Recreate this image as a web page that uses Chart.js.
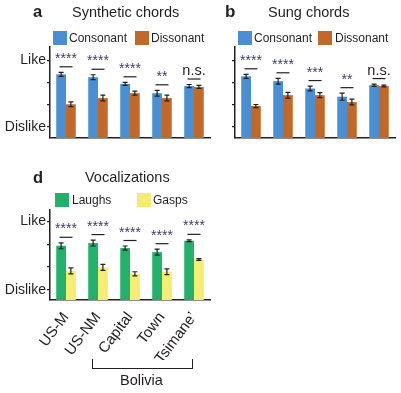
<!DOCTYPE html>
<html>
<head>
<meta charset="utf-8">
<script src="https://cdn.jsdelivr.net/npm/chart.js@4.4.1/dist/chart.umd.min.js"></script>
<style>
  body { margin: 0; background: #fff; }
  #wrap { position: relative; width: 401px; height: 393px; font-family: "Liberation Sans", Arial, sans-serif; color: #231f20; }
  #wrap canvas { position: absolute; left: 0; top: 0; }
  .t { position: absolute; white-space: nowrap; line-height: 1; }
  .letter { font-weight: bold; }
  .sw { position: absolute; width: 14px; height: 14px; }
  #bracket { position: absolute; left: 92px; top: 359px; width: 99px; height: 9px; border: 1.5px solid #231f20; border-top: none; }
</style>
</head>
<body>
<div id="wrap">
  <canvas id="chartA" width="401" height="393"></canvas>
  <canvas id="chartB" width="401" height="393"></canvas>
  <canvas id="chartD" width="401" height="393"></canvas>

  <!-- panel a -->
  <div class="t letter" style="left:33px;top:3px;font-size:16.5px">a</div>
  <div class="t" style="left:72px;top:5px;font-size:14.5px">Synthetic chords</div>
  <div class="sw" style="left:53px;top:31px;background:#4a8fd4"></div>
  <div class="t" style="left:69px;top:31.5px;font-size:12px">Consonant</div>
  <div class="sw" style="left:135px;top:31px;background:#c0692a"></div>
  <div class="t" style="left:151px;top:31.5px;font-size:12px">Dissonant</div>

  <!-- panel b -->
  <div class="t letter" style="left:225px;top:3px;font-size:17px">b</div>
  <div class="t" style="left:268px;top:5px;font-size:14.5px">Sung chords</div>
  <div class="sw" style="left:238px;top:31px;background:#4a8fd4"></div>
  <div class="t" style="left:254px;top:31.5px;font-size:12px">Consonant</div>
  <div class="sw" style="left:318px;top:31px;background:#c0692a"></div>
  <div class="t" style="left:335px;top:31.5px;font-size:12px">Dissonant</div>

  <!-- panel d -->
  <div class="t letter" style="left:33px;top:169px;font-size:16.5px">d</div>
  <div class="t" style="left:85px;top:170px;font-size:14.5px">Vocalizations</div>
  <div class="sw" style="left:55px;top:193px;background:#22b06b"></div>
  <div class="t" style="left:72px;top:194px;font-size:12px">Laughs</div>
  <div class="sw" style="left:137px;top:193px;background:#f5ec72"></div>
  <div class="t" style="left:153px;top:194px;font-size:12px">Gasps</div>

  <div id="bracket"></div>
  <div class="t" style="left:120px;top:373px;font-size:14.5px">Bolivia</div>
</div>

<script>
// scale: 1 = Dislike, 4 = Like
const yTicks = [1, 2, 3, 4];
const yLabels = ['Dislike', '', '', 'Like'];

// a - synthetic chords
const chordGroups = ['1', '2', '3', '4', '5'];
const synthConsonant = [3.37, 3.24, 2.94, 2.52, 2.84];
const synthConsonantErr = [0.09, 0.11, 0.07, 0.13, 0.07];
const synthDissonant = [2.02, 2.30, 2.52, 2.30, 2.80];
const synthDissonantErr = [0.11, 0.13, 0.09, 0.13, 0.07];
const synthSig = ['****', '****', '****', '**', 'n.s.'];

// b - sung chords
const sungConsonant = [3.28, 3.06, 2.73, 2.36, 2.88];
const sungConsonantErr = [0.09, 0.13, 0.11, 0.16, 0.05];
const sungDissonant = [1.94, 2.43, 2.43, 2.12, 2.84];
const sungDissonantErr = [0.07, 0.13, 0.11, 0.13, 0.04];
const sungSig = ['****', '****', '***', '**', 'n.s.'];

// d - vocalizations
const groups = ['US-M', 'US-NM', 'Capital', 'Town', 'Tsimane\u2019'];
const laughs = [2.93, 3.05, 2.83, 2.65, 3.15];
const laughsErr = [0.13, 0.13, 0.09, 0.13, 0.04];
const gasps = [1.83, 1.98, 1.70, 1.79, 2.33];
const gaspsErr = [0.13, 0.13, 0.09, 0.13, 0.04];
const vocSig = ['****', '****', '****', '****', '****'];

const ink = '#231f20';

// error bars + significance marks
const extras = {
  id: 'extras',
  afterDatasetsDraw(chart, args, opts) {
    const ctx = chart.ctx;
    const y = chart.scales.y;
    const x = chart.scales.x;
    ctx.save();
    ctx.strokeStyle = ink;
    ctx.lineWidth = 1.2;
    chart.data.datasets.forEach((ds, i) => {
      const meta = chart.getDatasetMeta(i);
      meta.data.forEach((bar, j) => {
        const e = ds.err[j];
        const top = y.getPixelForValue(ds.data[j] + e);
        const bot = y.getPixelForValue(ds.data[j] - e);
        ctx.beginPath();
        ctx.moveTo(bar.x, top); ctx.lineTo(bar.x, bot);
        ctx.moveTo(bar.x - 2.5, top); ctx.lineTo(bar.x + 2.5, top);
        ctx.moveTo(bar.x - 2.5, bot); ctx.lineTo(bar.x + 2.5, bot);
        ctx.stroke();
      });
    });
    // significance
    opts.labels.forEach((lab, j) => {
      let top = Infinity;
      chart.data.datasets.forEach(ds => {
        top = Math.min(top, y.getPixelForValue(ds.data[j] + ds.err[j]));
      });
      const ly = top - 5.5;
      const cx = x.getPixelForValue(j);
      ctx.beginPath();
      ctx.moveTo(cx - 6.5, ly); ctx.lineTo(cx + 6.5, ly);
      ctx.stroke();
      ctx.textAlign = 'center';
      ctx.textBaseline = 'alphabetic';
      if (lab === 'n.s.') {
        ctx.fillStyle = ink;
        ctx.font = '14.5px "Liberation Sans", Arial, sans-serif';
        ctx.fillText(lab, cx, ly - 4);
      } else {
        ctx.fillStyle = '#3a3d66';
        ctx.font = '14px "Liberation Sans", Arial, sans-serif';
        ctx.fillText(lab, cx, ly - 4);
      }
    });
    ctx.restore();
  }
};

function makePanel(id, labels, sets, sig, pad, yMin, yMax, showYLabels, xHeight) {
  return new Chart(document.getElementById(id), {
    type: 'bar',
    data: {
      labels: labels,
      datasets: sets.map(s => ({
        data: s.data,
        err: s.err,
        backgroundColor: s.color,
        categoryPercentage: 0.61,
        barPercentage: 1
      }))
    },
    options: {
      responsive: false,
      animation: false,
      devicePixelRatio: 1,
      layout: { padding: pad },
      plugins: {
        legend: { display: false },
        tooltip: { enabled: false },
        extras: { labels: sig }
      },
      scales: {
        x: {
          grid: { display: false, drawTicks: false },
          border: { display: true, color: ink, width: 1.5 },
          ticks: {
            display: xHeight > 0,
            autoSkip: false,
            color: ink,
            font: { family: '"Liberation Sans", Arial, sans-serif', size: 15 },
            minRotation: 53,
            maxRotation: 53,
            padding: 9
          },
          afterFit(s) { s.height = xHeight; s.paddingLeft = 0; s.paddingRight = 0; }
        },
        y: {
          min: yMin,
          max: yMax,
          afterBuildTicks(s) { s.ticks = yTicks.map(v => ({ value: v })); },
          grid: { drawOnChartArea: false, drawTicks: true, tickLength: 3, color: ink, lineWidth: 1.2 },
          border: { display: true, color: ink, width: 1.5 },
          ticks: {
            color: ink,
            padding: 1,
            font: { family: '"Liberation Sans", Arial, sans-serif', size: 14 },
            callback: (v) => showYLabels ? yLabels[yTicks.indexOf(v)] : ''
          },
          afterFit(s) { s.width = 50; s.paddingTop = 0; s.paddingBottom = 0; }
        }
      }
    },
    plugins: [extras]
  });
}

makePanel('chartA', chordGroups, [
  { data: synthConsonant, err: synthConsonantErr, color: '#4a8fd4' },
  { data: synthDissonant, err: synthDissonantErr, color: '#c0692a' }
], synthSig, { left: 0, top: 47, right: 191, bottom: 255 }, 0.5, 4.6, true, 0);

makePanel('chartB', chordGroups, [
  { data: sungConsonant, err: sungConsonantErr, color: '#4a8fd4' },
  { data: sungDissonant, err: sungDissonantErr, color: '#c0692a' }
], sungSig, { left: 185, top: 47, right: 6, bottom: 255 }, 0.5, 4.6, false, 0);

makePanel('chartD', groups, [
  { data: laughs, err: laughsErr, color: '#22b06b' },
  { data: gasps, err: gaspsErr, color: '#f5ec72' }
], vocSig, { left: 0, top: 210, right: 191, bottom: 33 }, 0.55, 4.5, true, 60);
</script>
</body>
</html>
